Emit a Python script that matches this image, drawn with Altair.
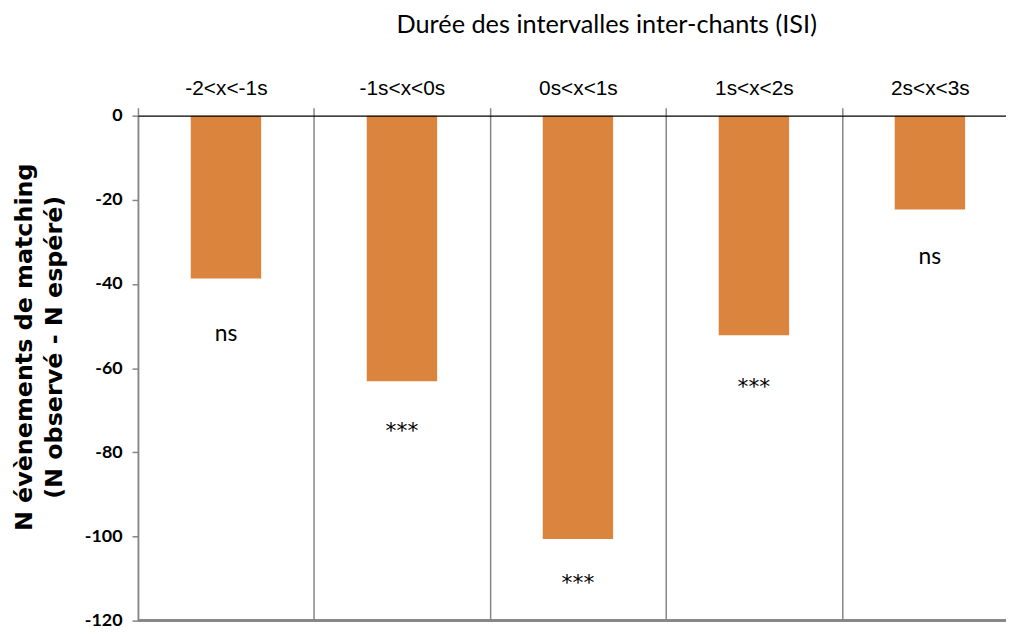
import altair as alt
import pandas as pd

categories = ["-2<x<-1s", "-1s<x<0s", "0s<x<1s", "1s<x<2s", "2s<x<3s"]
values = [-38.7, -63.1, -100.6, -52.2, -22.3]
annot_text = ["ns", "***", "***", "***", "ns"]
annot_y = [-52.0, -75.0, -111.0, -64.5, -33.6]
y_ticks = [0, -20, -40, -60, -80, -100, -120]

df = pd.DataFrame({"cat": categories, "value": values,
                   "label": annot_text, "label_y": annot_y})

GRAY = "#868686"
ORANGE = "#DB843D"

x_enc = alt.X(
    "cat:N", sort=categories,
    scale=alt.Scale(range=[0, 887], paddingInner=0, paddingOuter=0),
    axis=alt.Axis(
        orient="top",
        title="Durée des intervalles inter-chants (ISI)",
        titleX=472, titleY=-92, titleFont="Lato", titleFontSize=25.5,
        titleFontWeight="normal", titleBaseline="middle", titleAlign="center",
        titleColor="black",
        labelFont="Liberation Sans", labelFontSize=21, labelColor="black",
        labelAngle=0, labelPadding=9,
        ticks=True, tickBand="extent", tickSize=8, tickColor=GRAY, tickWidth=1.5,
        grid=True, gridColor=GRAY, gridWidth=1.5,
        domainColor="black", domainWidth=1.2, zindex=1,
    ),
)

y_enc = alt.Y(
    "value:Q",
    scale=alt.Scale(domain=[-120, 0], nice=False),
    axis=alt.Axis(
        values=y_ticks,
        labelExpr="'' + datum.value",
        title=["N évènements de matching", "(N observé - N espéré)"],
        titleFont="DejaVu Sans", titleFontSize=24, titleFontWeight="bold",
        titleAngle=270, titleX=-114, titleY=233, titleAlign="center",
        titleBaseline="middle", titleLineHeight=30, titleColor="black",
        labelFont="Lato", labelFontWeight="bold", labelFontSize=18,
        labelColor="black", labelPadding=10,
        tickSize=6, tickColor=GRAY, tickWidth=1.5,
        domainColor=GRAY, domainWidth=1.5, grid=False,
    ),
)

bars = alt.Chart(df).mark_bar(color=ORANGE, width=alt.RelativeBandSize(0.4)).encode(
    x=x_enc, y=y_enc
)

ns_labels = alt.Chart(df).transform_filter(alt.datum.label == "ns").mark_text(
    font="Lato", fontSize=23, baseline="middle", color="black"
).encode(
    x=alt.X("cat:N", sort=categories),
    y=alt.Y("label_y:Q"),
    text="label:N",
)

star_labels = alt.Chart(df).transform_filter(alt.datum.label != "ns").mark_text(
    font="DejaVu Sans", fontSize=22, baseline="middle", color="black"
).encode(
    x=alt.X("cat:N", sort=categories),
    y=alt.Y("label_y:Q"),
    text="label:N",
)

bottom = alt.Chart(df).mark_rule(color=GRAY, strokeWidth=2).encode(
    y=alt.datum(-120)
)

chart = alt.layer(bars, ns_labels, star_labels, bottom).properties(
    width=875, height=509,
    autosize=alt.AutoSizeParams(type="none"),
    padding={"left": 131, "top": 106, "right": 0, "bottom": 12},
).configure_view(stroke=None)

chart.save("out.html", embed_options={"renderer": "svg", "actions": False})
